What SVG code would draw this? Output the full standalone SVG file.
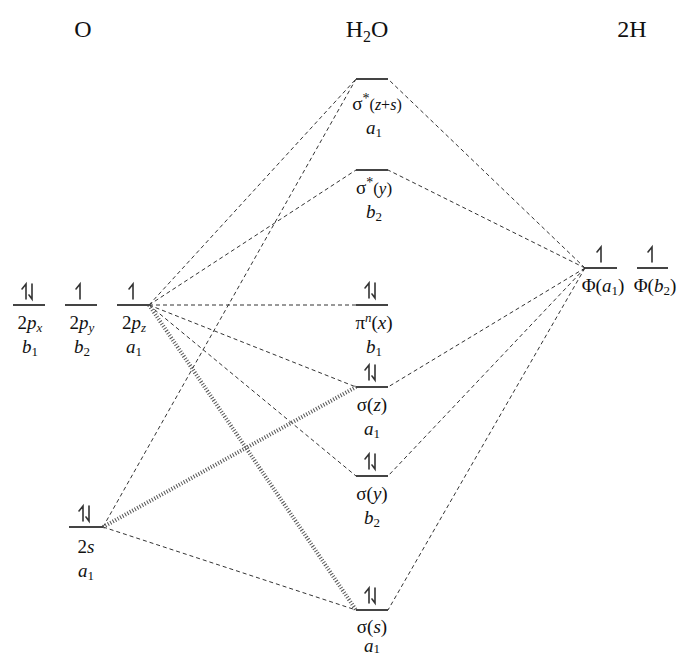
<svg xmlns="http://www.w3.org/2000/svg" width="685" height="657" viewBox="0 0 685 657">
<defs>
<style>
.lvl{stroke:#444;stroke-width:2;fill:none}
.e{stroke:#333;stroke-width:1.6;fill:none;stroke-linecap:round}
.d{stroke:#333;stroke-width:1;fill:none;stroke-dasharray:4 3}
.h{stroke:#555;stroke-width:4;fill:none;stroke-dasharray:1 1.8}
text{font-family:"Liberation Serif","Times New Roman",serif;fill:#111}
.t{font-size:24px;text-anchor:middle}
.l{font-size:19px;text-anchor:middle}
.i{font-style:italic}
.s{font-size:13px}
</style>
<g id="up"><path class="e" d="M0 15V0L-4 5"/></g>
<g id="pair"><path class="e" d="M-3 15V0L-7 5M3 0V15L0 11"/></g>
</defs>
<rect width="685" height="657" fill="#fff"/>
<g id="titles">
<text class="t" x="83" y="37">O</text>
<text class="t" x="367" y="37">H<tspan font-size="16" dy="5">2</tspan><tspan dy="-5">O</tspan></text>
<text class="t" x="632" y="37">2H</text>
</g>
<g id="connectors">
<path class="d" d="M149 305L356 79M149 305L356 170M149 305H356M149 305L356 387M149 305L356 476"/>
<path class="h" d="M149 305L356 610"/>
<path class="d" d="M103 527L356 79M103 527L356 610"/>
<path class="h" d="M103 527L356 387"/>
<path class="d" d="M585 268L388 79M585 268L388 170M585 268L388 387M585 268L388 476M585 268L388 610"/>
</g>
<g id="O-2px">
<line class="lvl" x1="13" y1="305" x2="45" y2="305"/>
<use href="#pair" x="29" y="284"/>
<text class="l" x="30" y="329">2<tspan class="i">p</tspan><tspan class="i s" dy="3">x</tspan></text>
<text class="l" x="30" y="353"><tspan class="i">b</tspan><tspan class="s" dy="3">1</tspan></text>
</g>
<g id="O-2py">
<line class="lvl" x1="65" y1="305" x2="97" y2="305"/>
<use href="#up" x="80" y="284"/>
<text class="l" x="82" y="329">2<tspan class="i">p</tspan><tspan class="i s" dy="3">y</tspan></text>
<text class="l" x="82" y="353"><tspan class="i">b</tspan><tspan class="s" dy="3">2</tspan></text>
</g>
<g id="O-2pz">
<line class="lvl" x1="117" y1="305" x2="149" y2="305"/>
<use href="#up" x="133" y="284"/>
<text class="l" x="134" y="329">2<tspan class="i">p</tspan><tspan class="i s" dy="3">z</tspan></text>
<text class="l" x="134" y="353"><tspan class="i">a</tspan><tspan class="s" dy="3">1</tspan></text>
</g>
<g id="O-2s">
<line class="lvl" x1="69" y1="527" x2="103" y2="527"/>
<use href="#pair" x="86" y="506"/>
<text class="l" x="86" y="553">2<tspan class="i">s</tspan></text>
<text class="l" x="86" y="577"><tspan class="i">a</tspan><tspan class="s" dy="3">1</tspan></text>
</g>
<g id="H2O-sigma-star-zs">
<line class="lvl" x1="356" y1="79" x2="388" y2="79"/>
<text class="l" x="377" y="110">σ<tspan font-size="14" dy="-7">*</tspan><tspan font-size="16" dy="7">(<tspan class="i">z</tspan>+<tspan class="i">s</tspan>)</tspan></text>
<text class="l" x="374" y="134"><tspan class="i">a</tspan><tspan class="s" dy="3">1</tspan></text>
</g>
<g id="H2O-sigma-star-y">
<line class="lvl" x1="356" y1="170" x2="388" y2="170"/>
<text class="l" x="374" y="194">σ<tspan font-size="14" dy="-7">*</tspan><tspan font-size="17" dy="7">(<tspan class="i">y</tspan>)</tspan></text>
<text class="l" x="374" y="218"><tspan class="i">b</tspan><tspan class="s" dy="3">2</tspan></text>
</g>
<g id="H2O-pi-n-x">
<line class="lvl" x1="356" y1="305" x2="388" y2="305"/>
<use href="#pair" x="372" y="283"/>
<text class="l" x="374" y="329">π<tspan class="i s" dy="-7">n</tspan><tspan dy="7">(<tspan class="i">x</tspan>)</tspan></text>
<text class="l" x="374" y="353"><tspan class="i">b</tspan><tspan class="s" dy="3">1</tspan></text>
</g>
<g id="H2O-sigma-z">
<line class="lvl" x1="356" y1="387" x2="388" y2="387"/>
<use href="#pair" x="372" y="365"/>
<text class="l" x="372" y="411">σ(<tspan class="i">z</tspan>)</text>
<text class="l" x="372" y="435"><tspan class="i">a</tspan><tspan class="s" dy="3">1</tspan></text>
</g>
<g id="H2O-sigma-y">
<line class="lvl" x1="356" y1="476" x2="388" y2="476"/>
<use href="#pair" x="372" y="454"/>
<text class="l" x="372" y="500">σ(<tspan class="i">y</tspan>)</text>
<text class="l" x="372" y="524"><tspan class="i">b</tspan><tspan class="s" dy="3">2</tspan></text>
</g>
<g id="H2O-sigma-s">
<line class="lvl" x1="356" y1="610" x2="388" y2="610"/>
<use href="#pair" x="372" y="588"/>
<text class="l" x="372" y="633">σ(<tspan class="i">s</tspan>)</text>
<text class="l" x="372" y="652"><tspan class="i">a</tspan><tspan class="s" dy="1">1</tspan></text>
</g>
<g id="H-phi-a1">
<line class="lvl" x1="585" y1="268" x2="617" y2="268"/>
<use href="#up" x="601" y="247"/>
<text class="l" x="603" y="292">Φ(<tspan class="i">a</tspan><tspan class="s" dy="3">1</tspan><tspan dy="-3">)</tspan></text>
</g>
<g id="H-phi-b2">
<line class="lvl" x1="637" y1="268" x2="668" y2="268"/>
<use href="#up" x="652" y="247"/>
<text class="l" x="655" y="292">Φ(<tspan class="i">b</tspan><tspan class="s" dy="3">2</tspan><tspan dy="-3">)</tspan></text>
</g>
</svg>
